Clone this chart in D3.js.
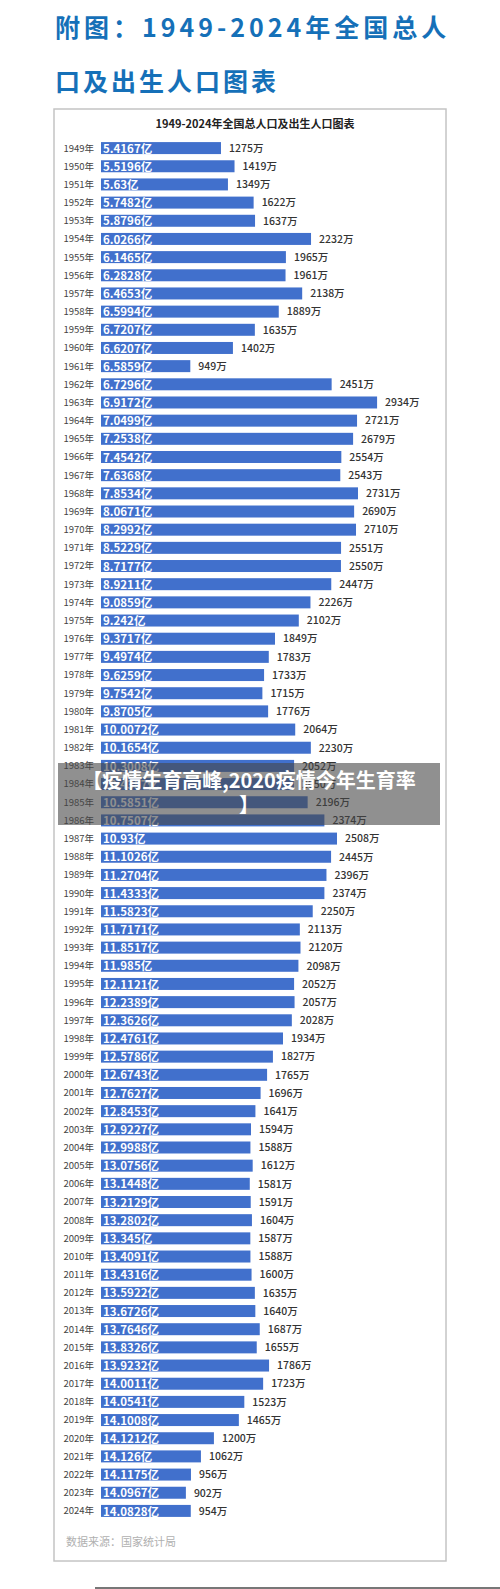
<!DOCTYPE html>
<html>
<head>
<meta charset="utf-8">
<script src="https://cdn.jsdelivr.net/npm/d3@7"></script>
<style>
    body { margin: 0; background: #fff; }
    svg { display: block; font-family: "Noto Sans CJK SC", "Noto Sans", sans-serif; }
    .title { fill: #1570b8; font-size: 25px; font-weight: 700; letter-spacing: 3px; }
    .title.first { letter-spacing: 4px; }
    .subtitle { fill: #222; font-size: 11px; font-weight: 700; }
    .year { fill: #444; font-size: 9.5px; }
    .bar { fill: #4170cc; }
    .inner { fill: #fff; font-size: 11.5px; font-weight: 700; }
    .births { fill: #333; font-size: 10.5px; font-weight: 500; }
    .frame { fill: none; stroke: #c4c4c4; stroke-width: 1.5; }
    .source { fill: #b0b0b0; font-size: 11px; }
</style>
</head>
<body>
<script>
(function () {

    //years shown on the chart
    var years = [1949, 1950, 1951, 1952, 1953, 1954, 1955, 1956, 1957, 1958,
        1959, 1960, 1961, 1962, 1963, 1964, 1965, 1966, 1967, 1968,
        1969, 1970, 1971, 1972, 1973, 1974, 1975, 1976, 1977, 1978,
        1979, 1980, 1981, 1982, 1983, 1984, 1985, 1986, 1987, 1988,
        1989, 1990, 1991, 1992, 1993, 1994, 1995, 1996, 1997, 1998,
        1999, 2000, 2001, 2002, 2003, 2004, 2005, 2006, 2007, 2008,
        2009, 2010, 2011, 2012, 2013, 2014, 2015, 2016, 2017, 2018,
        2019, 2020, 2021, 2022, 2023, 2024];

    //total population (亿), kept as text so the labels read as printed
    var totalPop = ["5.4167", "5.5196", "5.63", "5.7482", "5.8796", "6.0266", "6.1465", "6.2828", "6.4653", "6.5994",
        "6.7207", "6.6207", "6.5859", "6.7296", "6.9172", "7.0499", "7.2538", "7.4542", "7.6368", "7.8534",
        "8.0671", "8.2992", "8.5229", "8.7177", "8.9211", "9.0859", "9.242", "9.3717", "9.4974", "9.6259",
        "9.7542", "9.8705", "10.0072", "10.1654", "10.3008", "10.4357", "10.5851", "10.7507", "10.93", "11.1026",
        "11.2704", "11.4333", "11.5823", "11.7171", "11.8517", "11.985", "12.1121", "12.2389", "12.3626", "12.4761",
        "12.5786", "12.6743", "12.7627", "12.8453", "12.9227", "12.9988", "13.0756", "13.1448", "13.2129", "13.2802",
        "13.345", "13.4091", "13.4316", "13.5922", "13.6726", "13.7646", "13.8326", "13.9232", "14.0011", "14.0541",
        "14.1008", "14.1212", "14.126", "14.1175", "14.0967", "14.0828"];

    //births (万)
    var births = [1275, 1419, 1349, 1622, 1637, 2232, 1965, 1961, 2138, 1889,
        1635, 1402, 949, 2451, 2934, 2721, 2679, 2554, 2543, 2731,
        2690, 2710, 2551, 2550, 2447, 2226, 2102, 1849, 1783, 1733,
        1715, 1776, 2064, 2230, 2052, 2050, 2196, 2374, 2508, 2445,
        2396, 2374, 2250, 2113, 2120, 2098, 2052, 2057, 2028, 1934,
        1827, 1765, 1696, 1641, 1594, 1588, 1612, 1581, 1591, 1604,
        1587, 1588, 1600, 1635, 1640, 1687, 1655, 1786, 1723, 1523,
        1465, 1200, 1062, 956, 902, 954];

    var titleLines = ["附图：1949-2024年全国总人", "口及出生人口图表"];
    var chartTitle = "1949-2024年全国总人口及出生人口图表";
    var sourceText = "数据来源：国家统计局";
    var overlayLines = ["【疫情生育高峰,2020疫情今年生育率", "】"];

    var width = 500,
        height = 1589;

    var rows = years.map(function (y, i) {
        return { year: y, pop: totalPop[i], births: births[i] };
    });

    var svg = d3.select("body")
        .append("svg")
        .attr("width", width)
        .attr("height", height);

    //big blue heading
    svg.selectAll(".title")
        .data(titleLines)
        .enter()
        .append("text")
        .attr("class", function (d, i) { return i == 0 ? "title first" : "title"; })
        .attr("x", 55)
        .attr("y", function (d, i) { return 37 + i * 54; })
        .text(function (d) { return d; });

    //chart border
    svg.append("rect")
        .attr("class", "frame")
        .attr("x", 54)
        .attr("y", 109)
        .attr("width", 392)
        .attr("height", 1452);

    svg.append("text")
        .attr("class", "subtitle")
        .attr("x", 255)
        .attr("y", 128)
        .attr("text-anchor", "middle")
        .text(chartTitle);

    //scales
    var xScale = d3.scaleLinear()
        .domain([0, 3000])
        .range([101, 101 + 3000 * 0.0941]);

    var yScale = d3.scaleBand()
        .domain(years)
        .range([139, 1520])
        .paddingInner(0.34)
        .paddingOuter(0.17);

    var row = svg.selectAll(".row")
        .data(rows)
        .enter()
        .append("g")
        .attr("class", "row");

    row.append("rect")
        .attr("class", "bar")
        .attr("x", xScale(0))
        .attr("y", function (d) { return yScale(d.year); })
        .attr("width", function (d) { return xScale(d.births) - xScale(0); })
        .attr("height", yScale.bandwidth());

    row.append("text")
        .attr("class", "year")
        .attr("x", 94)
        .attr("y", function (d) { return yScale(d.year) + yScale.bandwidth() / 2; })
        .attr("dy", "0.36em")
        .attr("text-anchor", "end")
        .text(function (d) { return d.year + "年"; });

    row.append("text")
        .attr("class", "inner")
        .attr("x", xScale(0) + 2)
        .attr("y", function (d) { return yScale(d.year) + yScale.bandwidth() / 2; })
        .attr("dy", "0.4em")
        .text(function (d) { return d.pop + "亿"; });

    row.append("text")
        .attr("class", "births")
        .attr("x", function (d) { return xScale(d.births) + 8; })
        .attr("y", function (d) { return yScale(d.year) + yScale.bandwidth() / 2; })
        .attr("dy", "0.36em")
        .text(function (d) { return d.births + "万"; });

    svg.append("text")
        .attr("class", "source")
        .attr("x", 66)
        .attr("y", 1546)
        .text(sourceText);

    //grey rule under the chart
    svg.append("rect")
        .attr("x", 95)
        .attr("y", 1587)
        .attr("width", 405)
        .attr("height", 2)
        .attr("fill", "#777");

    //translucent caption band laid over the chart
    svg.append("rect")
        .attr("x", 58)
        .attr("y", 763)
        .attr("width", 382)
        .attr("height", 62)
        .attr("fill", "rgba(70,70,70,0.6)");

    svg.selectAll(".overlay")
        .data(overlayLines)
        .enter()
        .append("text")
        .attr("class", "overlay")
        .attr("x", 249)
        .attr("y", function (d, i) { return 788 + i * 24; })
        .attr("text-anchor", "middle")
        .attr("fill", "#fff")
        .attr("font-size", "20px")
        .attr("font-weight", 700)
        .text(function (d) { return d; });

})();
</script>
</body>
</html>
